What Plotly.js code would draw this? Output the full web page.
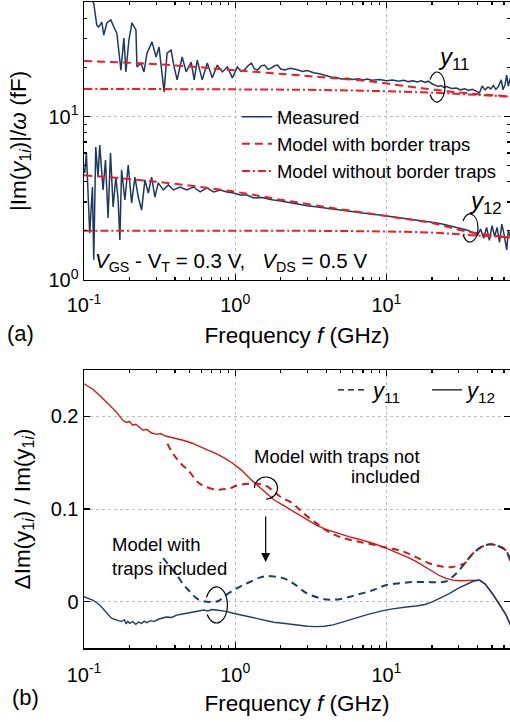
<!DOCTYPE html>
<html><head><meta charset="utf-8">
<script src="https://cdn.plot.ly/plotly-3.0.1.min.js"></script>
<style>html,body{margin:0;padding:0;background:#fff}</style>
</head><body><div id="chart" style="width:510px;height:722px"></div>
<script>
// ---------- Panel (a): |Im(y1i)|/omega (fF) ----------
var fMeas11 = [0.1,0.106,0.112,0.116,0.1214,0.1252,0.1311,0.1352,0.1415,0.1505,0.1576,0.1649,0.1754,0.1836,0.1893,0.1982,0.2075,0.2206,0.224,0.238,0.2493,0.261,0.2818,0.2995,0.3136,0.3385,0.3544,0.3768,0.3945,0.413,0.4459,0.4739,0.5117,0.5357,0.5609,0.6053,0.6536,0.7055,0.7615,0.8222,0.8874,0.958,1.034,1.09,1.151,1.22,1.281,1.34,1.404,1.48,1.563,1.65,1.74,1.82,1.907,2.0,2.123,2.3,2.5,2.8,3.0,3.3,3.6,4.0,4.3,4.7,5.0,5.5,6.0,6.5,7.0,7.5,8,9,10,11,12,13,14,15,16,17,18,19,20,21,22,23,24,25,27,29,31,33,35,37,39,41.3,43,45,47,49,51,53,55,57.5,59,61,62.5,64,66];
var meas11 = [60,56,52,49.5,36.4,35.4,38.0,31.6,37.5,39.1,35.4,32.5,19.3,30.3,18.8,29.5,37.5,34.0,20.2,21.3,18.8,24.5,28.7,23.2,26.7,14.2,24.5,25.6,20.2,16.8,23.2,18.8,21.6,16.8,22.2,16.8,21.3,17.3,20.7,18.8,20.2,17.3,20.2,19.0,19.3,20.6,21.3,19.6,19.3,20.4,20.7,19.5,19.9,20.5,20.7,19.6,19.3,19.8,19.5,18.9,19.2,18.6,18.3,17.8,17.5,17.4,17.0,17.2,16.9,17.1,16.8,17.0,16.7,16.9,16.6,16.8,16.5,16.7,16.4,16.6,16.3,16.6,16.2,16.5,15.9,15.6,15.3,15.5,15.1,15.3,14.9,15.0,14.6,14.8,14.5,14.7,14.3,14.0,15.4,14.6,15.2,14.8,15.5,14.7,15.3,16.8,14.6,15.8,18.0,15.4,17.3];

var fMeas12 = [0.1,0.1011,0.1037,0.1091,0.1137,0.116,0.1196,0.1239,0.1271,0.1337,0.1387,0.1443,0.1497,0.1558,0.1624,0.1682,0.1727,0.1772,0.1864,0.1961,0.2065,0.2172,0.2285,0.2404,0.2529,0.2661,0.28,0.2946,0.3099,0.3347,0.3614,0.3903,0.4322,0.4786,0.5299,0.5868,0.6498,0.7195,0.7967,0.8822,0.9768,1.082,1.198,1.326,1.5,1.75,2.0,2.4,3.0,3.5,4.0,5.0,6.0,7.0,8.5,10,12,15,18,20,23,25,28,30,33,35,38,40,42,44,46,48,50,52,54,56,58,60,62.5,64,66];
var meas12 = [4.8,4.52,6.0,1.94,3.71,1.33,6.52,4.27,6.71,3.56,5.43,2.40,6.0,2.8,4.27,3.09,1.76,4.72,3.09,5.06,2.96,4.27,3.22,2.68,4.10,3.41,4.27,3.22,3.93,3.56,3.82,3.56,3.71,3.56,3.71,3.46,3.66,3.46,3.56,3.46,3.41,3.31,3.31,3.18,3.2,3.1,3.05,2.95,2.85,2.8,2.75,2.68,2.62,2.57,2.52,2.47,2.42,2.34,2.28,2.26,2.21,2.17,2.13,2.1,2.04,2.0,1.94,1.88,2.05,1.8,2.1,1.75,2.15,1.85,2.1,1.7,2.2,1.9,1.53,2.0,1.85];

var fModA11 = [0.1,0.2,0.5,0.9,2.5,4.2,7.6,14,21,32,66];
var modWith11 = [21.9,21.4,20.3,19.4,18.0,17.3,16.5,15.3,14.6,14.0,13.3];
var fNoA11 = [0.1,1,3,7.6,21,40,66];
var modWithout11 = [14.8,14.7,14.6,14.4,14.0,13.6,13.25];

var fModA12 = [0.1,0.3,1,2,4.4,7.3,12,20,34,66];
var modWith12 = [4.38,4.0,3.47,3.1,2.76,2.57,2.4,2.23,1.98,1.82];
var fNoA12 = [0.1,3,10,20,34,66];
var modWithout12 = [2.0,2.0,1.98,1.95,1.89,1.82];

// ---------- Panel (b): relative error ----------
var fB12no = [0.1,0.115,0.127,0.145,0.164,0.18,0.19,0.2,0.21,0.22,0.235,0.246,0.26,0.28,0.302,0.32,0.35,0.4,0.452,0.52,0.583,0.66,0.75,0.85,0.967,1.1,1.25,1.42,1.6,1.8,2.07,2.35,2.67,3.0,3.44,3.9,4.44,5.0,5.7,6.5,7.36,8.4,9.5,11,12.2,14,15.8,18,20.3,22.5,24.8,27.5,30.5,34,37.4,41.3,45,50.6,56,61.7,66];
var err12no = [0.2352,0.2290,0.2226,0.2130,0.2046,0.1960,0.1935,0.1945,0.1905,0.1915,0.1870,0.1849,0.1860,0.1820,0.1806,0.1815,0.1785,0.1765,0.1742,0.1710,0.1670,0.1635,0.1598,0.1550,0.1491,0.1420,0.1329,0.1250,0.1167,0.1100,0.1041,0.0985,0.0934,0.0880,0.0826,0.0785,0.0754,0.0725,0.0700,0.0677,0.0654,0.0622,0.0592,0.0550,0.0521,0.0475,0.0431,0.0375,0.0323,0.0280,0.0252,0.0232,0.0226,0.0226,0.0226,0.0233,0.0190,0.0080,-0.0030,-0.0140,-0.0250];

var fB12with = [0.1,0.115,0.127,0.14,0.152,0.165,0.177,0.185,0.19,0.195,0.2,0.21,0.22,0.23,0.24,0.25,0.26,0.275,0.29,0.31,0.33,0.35,0.38,0.41,0.45,0.5,0.55,0.58,0.62,0.66,0.7,0.75,0.8,0.87,0.97,1.1,1.25,1.42,1.6,1.8,2.07,2.35,2.67,3.0,3.44,3.9,4.44,5.0,5.7,6.5,7.36,8.4,9.5,11,12.2,14,15.8,18,20.3,23,26.2,30,34,37.5,41.3,45,50.6,56,61.7,66];
var err12with = [0.0054,0.0015,-0.0036,-0.0110,-0.0179,-0.0200,-0.0215,-0.0195,-0.0240,-0.0210,-0.0233,-0.0215,-0.0245,-0.0220,-0.0235,-0.0210,-0.0226,-0.0205,-0.0215,-0.0190,-0.0180,-0.0165,-0.0170,-0.0145,-0.0133,-0.0120,-0.0105,-0.0100,-0.0090,-0.0100,-0.0085,-0.0090,-0.0095,-0.0105,-0.0125,-0.0145,-0.0168,-0.0190,-0.0208,-0.0222,-0.0233,-0.0245,-0.0258,-0.0265,-0.0269,-0.0265,-0.0251,-0.0228,-0.0197,-0.0170,-0.0143,-0.0118,-0.0097,-0.0078,-0.0065,-0.0055,-0.0046,-0.0030,0.0000,0.0040,0.0090,0.0145,0.0190,0.0220,0.0233,0.0190,0.0080,-0.0030,-0.0140,-0.0250];

var fB11no = [0.356,0.38,0.41,0.45,0.49,0.53,0.58,0.65,0.74,0.82,0.91,1.05,1.3,1.55,1.77,2.0,2.4,2.8,3.3,4.0,4.8,6.0,7.7,9.5,11.4,13.5,16.7,19.5,22.3,25,27.5,30,33,37.4,43.6,49,55,61.5,66];
var err11no = [0.1706,0.162,0.1544,0.147,0.1418,0.1345,0.1275,0.1235,0.121,0.1212,0.1221,0.1257,0.1275,0.126,0.120,0.113,0.106,0.096,0.087,0.077,0.0705,0.066,0.0625,0.059,0.0565,0.053,0.046,0.041,0.0385,0.0372,0.0375,0.039,0.0413,0.0521,0.060,0.062,0.060,0.0555,0.044];

var fB11with = [0.334,0.37,0.41,0.457,0.5,0.556,0.6,0.65,0.72,0.78,0.84,0.98,1.1,1.26,1.45,1.6,1.8,2.1,2.42,2.98,3.66,4.2,5.0,6.3,8.2,10,12.5,15,18.5,22.3,25,27,30,33,37.4,43.6,49,55,61.5,66];
var err11with = [0.047,0.038,0.029,0.018,0.011,0.0035,0.001,0.0,-0.0003,0.001,0.0054,0.0126,0.017,0.0215,0.026,0.0275,0.0272,0.0252,0.0198,0.009,0.0037,0.0022,0.003,0.0072,0.0126,0.018,0.020,0.0212,0.0212,0.021,0.022,0.026,0.033,0.0413,0.0521,0.060,0.062,0.060,0.0555,0.044];

var xTickVals = [0.1, 1, 10];
var xTickText = ['10<sup>-1</sup>', '10<sup>0</sup>', '10<sup>1</sup>'];
var yTickValsA = [1, 10];
var yTickTextA = ['10<sup>0</sup>', '10<sup>1</sup>'];
var yTickValsB = [0, 0.1, 0.2];
var yTickTextB = ['0', '0.1', '0.2'];

var NAVY = '#1c3a60', RED = '#ee1c24', DRED = '#d01818', BLUE = '#1f3e66';
var FONT = 'Liberation Sans, Arial, sans-serif';

var traces = [
  {x: fMeas11, y: meas11, mode: 'lines', name: 'Measured', line: {color: NAVY, width: 1.5}, legend: 'legend'},
  {x: fMeas12, y: meas12, mode: 'lines', showlegend: false, line: {color: NAVY, width: 1.5}},
  {x: fModA11, y: modWith11, mode: 'lines', name: 'Model with border traps', line: {color: RED, width: 2, dash: '8px,5px', shape: 'spline'}},
  {x: fModA12, y: modWith12, mode: 'lines', showlegend: false, line: {color: RED, width: 2, dash: '8px,5px', shape: 'spline'}},
  {x: fNoA11, y: modWithout11, mode: 'lines', name: 'Model without border traps', line: {color: RED, width: 2, dash: '8px,3px,2px,3px', shape: 'spline'}},
  {x: fNoA12, y: modWithout12, mode: 'lines', showlegend: false, line: {color: RED, width: 2, dash: '8px,3px,2px,3px', shape: 'spline'}},

  {x: fB12no, y: err12no, xaxis: 'x2', yaxis: 'y2', mode: 'lines', showlegend: false, line: {color: DRED, width: 1.4}},
  {x: fB11no, y: err11no, xaxis: 'x2', yaxis: 'y2', mode: 'lines', showlegend: false, line: {color: DRED, width: 2, dash: '7px,5px', shape: 'spline'}},
  {x: fB11with, y: err11with, xaxis: 'x2', yaxis: 'y2', mode: 'lines', showlegend: false, line: {color: BLUE, width: 2, dash: '7px,5px', shape: 'spline'}},
  {x: fB12with, y: err12with, xaxis: 'x2', yaxis: 'y2', mode: 'lines', showlegend: false, line: {color: BLUE, width: 1.4}},

  {x: [null], y: [null], xaxis: 'x2', yaxis: 'y2', mode: 'lines', name: '<i>y</i><sub>11</sub>', legend: 'legend2', legendwidth: 49, showlegend: true, line: {color: 'black', width: 1.2, dash: '6px,4px'}},
  {x: [null], y: [null], xaxis: 'x2', yaxis: 'y2', mode: 'lines', name: '<i>y</i><sub>12</sub>', legend: 'legend2', legendwidth: 26, showlegend: true, line: {color: 'black', width: 1.2}}
];

function axisBase() {
  return {
    showline: true, linecolor: 'black', linewidth: 1.5, mirror: 'allticks',
    ticks: 'inside', ticklen: 6, tickwidth: 1.2, tickcolor: 'black',
    showgrid: true, gridcolor: '#bdbdbd', griddash: 'dot', gridwidth: 1,
    zeroline: false, automargin: false, tickfont: {size: 20, color: 'black', family: FONT}
  };
}
var TFONT = {size: 22.5, color: 'black', family: FONT};
var xa = Object.assign(axisBase(), {type: 'log', range: [-1, 1.8175], domain: [0, 1], anchor: 'y',
  tickmode: 'array', tickvals: xTickVals, ticktext: xTickText, ticklabelstandoff: 7,
  minor: {ticks: 'inside', ticklen: 3, tickcolor: 'black', dtick: 'D1', showgrid: false},
  title: {text: 'Frequency <i>f</i> (GHz)', font: TFONT, standoff: 12}});
var ya = Object.assign(axisBase(), {type: 'log', range: [0, 1.7024], domain: [0.5697, 1], anchor: 'x',
  tickmode: 'array', tickvals: yTickValsA, ticktext: yTickTextA,
  minor: {ticks: 'inside', ticklen: 3, tickcolor: 'black', dtick: 'D1', showgrid: false},
  title: {text: '|Im(<i>y</i><sub>1<i>i</i></sub>)|/<i>ω</i> (fF)', font: TFONT, standoff: 15}});
var xb = Object.assign(axisBase(), {type: 'log', range: [-1, 1.8175], domain: [0, 1], anchor: 'y2',
  tickmode: 'array', tickvals: xTickVals, ticktext: xTickText, ticklabelstandoff: 8,
  minor: {ticks: 'inside', ticklen: 3, tickcolor: 'black', dtick: 'D1', showgrid: false},
  title: {text: 'Frequency <i>f</i> (GHz)', font: TFONT, standoff: 10}});
var yb = Object.assign(axisBase(), {range: [-0.05, 0.25], domain: [0, 0.4303], anchor: 'x2',
  tickmode: 'array', tickvals: yTickValsB, ticktext: yTickTextB,
  title: {text: 'ΔIm(y<sub>1<i>i</i></sub>) / Im(y<sub>1<i>i</i></sub>)', font: TFONT, standoff: 14}});

// annotation ellipses built as pixel-offset arcs
function arcPath(rx, ry, a0, a1) {
  var steps = Math.ceil((a0 - a1) / 90);
  var step = (a0 - a1) / steps;
  function P(a) { var r = a * Math.PI / 180; return [Math.cos(r), Math.sin(r)]; }
  var p0 = P(a0);
  var d = 'M' + (rx * p0[0]).toFixed(2) + ',' + (ry * p0[1]).toFixed(2);
  for (var i = 0; i < steps; i++) {
    var a = a0 - i * step, b = a - step;
    var k = 4 / 3 * Math.tan(step * Math.PI / 180 / 4);
    var A = P(a), B = P(b);
    var ra = a * Math.PI / 180, rb = b * Math.PI / 180;
    var c1 = [A[0] + k * Math.sin(ra), A[1] - k * Math.cos(ra)];
    var c2 = [B[0] - k * Math.sin(rb), B[1] + k * Math.cos(rb)];
    d += 'C' + (rx * c1[0]).toFixed(2) + ',' + (ry * c1[1]).toFixed(2) + ' ' +
         (rx * c2[0]).toFixed(2) + ',' + (ry * c2[1]).toFixed(2) + ' ' +
         (rx * B[0]).toFixed(2) + ',' + (ry * B[1]).toFixed(2);
  }
  return d;
}
function ellipse(xp, yp, rx, ry, a0, a1) {
  return {type: 'path', xref: 'paper', yref: 'paper', xsizemode: 'pixel', ysizemode: 'pixel',
    xanchor: xp, yanchor: yp, path: arcPath(rx, ry, a0, a1), line: {color: 'black', width: 1.2}};
}

var layout = {
  width: 510, height: 722, margin: {l: 84, r: 0, t: 2, b: 74},
  paper_bgcolor: 'white', plot_bgcolor: 'white',
  font: {family: FONT, color: 'black', size: 18},
  xaxis: xa, yaxis: ya, xaxis2: xb, yaxis2: yb,
  legend: {x: 0.359, y: 0.851, xanchor: 'left', yanchor: 'top', bgcolor: 'rgba(0,0,0,0)',
    font: {size: 18.5, family: FONT, color: 'black'}, itemwidth: 30},
  legend2: {x: 0.5845, y: 0.4318, xanchor: 'left', yanchor: 'top', orientation: 'h', bgcolor: 'rgba(0,0,0,0)',
    font: {size: 22, family: FONT, color: 'black'}},
  shapes: [
    ellipse(0.8286, 0.8684, 8, 15, 150, -150),
    ellipse(0.9061, 0.6502, 8, 14, 150, -150),
    ellipse(0.4272, 0.2477, 11.5, 11, 180, -90),
    ellipse(0.311, 0.0666, 11, 18, 155, -148)
  ],
  annotations: [
    {text: '(a)', xref: 'paper', yref: 'paper', x: -0.150, y: 0.4876, xanchor: 'center', yanchor: 'middle', showarrow: false, font: {size: 22}},
    {text: '(b)', xref: 'paper', yref: 'paper', x: -0.137, y: -0.0760, xanchor: 'center', yanchor: 'middle', showarrow: false, font: {size: 22}},
    {text: '<i>V</i><sub>GS</sub> - V<sub>T</sub> = 0.3 V,\u00a0\u00a0\u00a0<i>V</i><sub>DS</sub> = 0.5 V', xref: 'paper', yref: 'paper', x: 0.0211, y: 0.5975, xanchor: 'left', yanchor: 'middle', showarrow: false, font: {size: 20.5}},
    {text: '<i>y</i><sub>11</sub>', xref: 'paper', yref: 'paper', x: 0.8263, y: 0.9133, xanchor: 'left', yanchor: 'middle', showarrow: false, font: {size: 24}},
    {text: '<i>y</i><sub>12</sub>', xref: 'paper', yref: 'paper', x: 0.899, y: 0.6889, xanchor: 'left', yanchor: 'middle', showarrow: false, font: {size: 24}},
    {text: 'Model with traps not', xref: 'paper', yref: 'paper', x: 0.7934, y: (648 - 457) / 646, xanchor: 'right', yanchor: 'middle', showarrow: false, font: {size: 18.5}},
    {text: 'included', xref: 'paper', yref: 'paper', x: 0.7934, y: (648 - 476) / 646, xanchor: 'right', yanchor: 'middle', showarrow: false, font: {size: 18.5}},
    {text: 'Model with<br>traps included', xref: 'paper', yref: 'paper', x: 0.061, y: 0.1409, xanchor: 'left', yanchor: 'middle', align: 'left', showarrow: false, font: {size: 18.5}},
    {text: '', xref: 'paper', yref: 'paper', x: 0.4265, y: 0.1331, ax: 0, ay: -47, showarrow: true, arrowhead: 2, arrowsize: 1.5, arrowwidth: 1.2, arrowcolor: 'black'}
  ]
};

Plotly.newPlot('chart', traces, layout, {displayModeBar: false, staticPlot: true});
</script></body></html>
